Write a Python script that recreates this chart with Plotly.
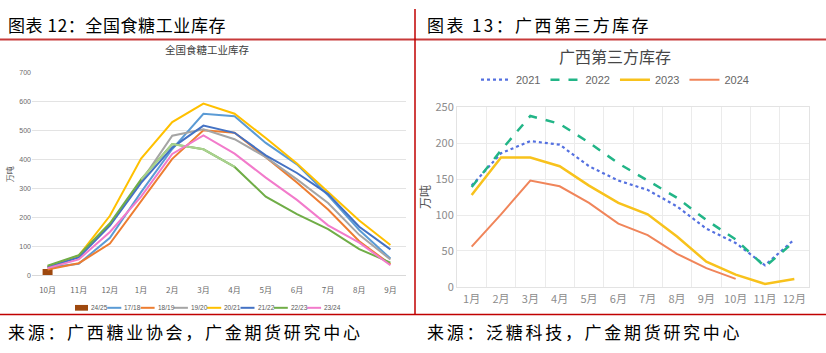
import plotly.graph_objects as go

W, H = 826, 353

def px(x):
    return x / W

def py(y):
    return 1 - y / H

# ---------------- data: left chart (全国食糖工业库存) ----------------
months_l = ['10月', '11月', '12月', '1月', '2月', '3月', '4月', '5月', '6月', '7月', '8月', '9月']
s1718 = [27, 40, 130, 288, 437, 559, 550, 458, 384, 277, 157, 58]
s1819 = [20, 42, 110, 255, 403, 502, 493, 409, 321, 228, 118, 38]
s1920 = [30, 65, 175, 325, 483, 505, 471, 409, 332, 250, 140, 55]
s2021 = [30, 68, 206, 404, 530, 594, 559, 475, 387, 288, 190, 105]
s2122 = [28, 62, 172, 320, 442, 518, 493, 415, 354, 281, 168, 90]
s2223 = [33, 70, 180, 332, 454, 436, 375, 272, 212, 160, 91, 44]
s2324 = [25, 55, 150, 272, 420, 484, 421, 338, 261, 173, 113, 35]
s2425_months = ['10月']
s2425 = [22]

left_names = ['24/25', '17/18', '18/19', '19/20', '20/21', '21/22', '22/23', '23/24']
left_colors = ['#9E480E', '#5B9BD5', '#ED7D31', '#A5A5A5', '#FFC000', '#4472C4', '#70AD47', '#F27BCB']
left_lines = [s1718, s1819, s1920, s2021, s2122, s2223, s2324]

# ---------------- data: right chart (广西第三方库存) ----------------
months_r = ['1月', '2月', '3月', '4月', '5月', '6月', '7月', '8月', '9月', '10月', '11月', '12月']
r2021 = [141, 186, 203, 198, 168, 148, 135, 112, 81, 61, 30, 66]
r2022 = [139, 190, 238, 227, 201, 172, 148, 124, 93, 66, 28, 63]
r2023 = [128, 180, 180, 168, 141, 117, 101, 70, 35, 17, 4, 11]
r2024 = [56, 101, 148, 140, 117, 88, 72, 46, 26, 11, None, None]
right_names = ['2021', '2022', '2023', '2024']

fig = go.Figure()

# left chart traces
fig.add_trace(go.Bar(x=s2425_months, y=s2425, width=0.32, marker=dict(color=left_colors[0], line=dict(width=0)),
                     name=left_names[0], showlegend=False, xaxis='x', yaxis='y'))
for i, vals in enumerate(left_lines):
    fig.add_trace(go.Scatter(x=months_l, y=vals, mode='lines', name=left_names[i + 1],
                             line=dict(color=left_colors[i + 1], width=2), showlegend=False,
                             xaxis='x', yaxis='y'))
    if left_names[i + 1] == '22/23':
        # lighter-coloured segment (1月 to 4月) as in the source picture
        fig.add_trace(go.Scatter(x=months_l[3:7], y=vals[3:7], mode='lines', name='22/23',
                                 line=dict(color='#A9D18E', width=2), showlegend=False,
                                 xaxis='x', yaxis='y'))

# right chart traces
r_styles = [
    dict(color='#5470E0', width=2.2, dash='dot'),
    dict(color='#22B587', width=2.5, dash='dash'),
    dict(color='#F8C21C', width=2.5),
    dict(color='#F0855A', width=2),
]
for name, vals, st in zip(right_names, [r2021, r2022, r2023, r2024], r_styles):
    fig.add_trace(go.Scatter(x=months_r, y=vals, mode='lines', name=name, line=st,
                             xaxis='x2', yaxis='y2', legend='legend2', connectgaps=False))

tick_l = dict(family='Noto Sans CJK SC, Liberation Sans', size=8, color='#6a6a6a')
tick_r = dict(family='Noto Sans CJK SC, Liberation Sans', size=11, color='#8c8c8c')

fig.update_layout(
    width=W, height=H,
    margin=dict(l=0, r=0, t=0, b=0),
    paper_bgcolor='white', plot_bgcolor='white',
    font=dict(family='Noto Sans CJK SC, Liberation Sans', color='#333'),
    showlegend=True,
    barmode='overlay',
    xaxis=dict(domain=[px(32), px(406)], anchor='y', type='category',
               categoryorder='array', categoryarray=months_l, range=[-0.5, 11.5],
               showgrid=False, showline=True, linecolor='#D9D9D9', linewidth=1,
               ticks='', tickangle=0, ticklabelstandoff=7, tickfont=tick_l, fixedrange=True),
    yaxis=dict(domain=[py(279), py(67)], anchor='x', range=[0, 700], dtick=100,
               showgrid=True, gridcolor='#E3E3E3', zeroline=False, showline=False,
               ticks='', tickfont=dict(family='Liberation Sans', size=7, color='#6a6a6a'),
               title=dict(text='万吨', font=dict(size=8, color='#595959'), standoff=4)),
    xaxis2=dict(domain=[px(457), px(809)], anchor='y2', type='category',
                categoryorder='array', categoryarray=months_r, range=[-0.5, 11.5],
                tickson='boundaries', showgrid=True, gridcolor='#EBEBEB',
                showline=True, mirror=True, linecolor='#E3E3E3',
                ticks='', tickangle=0, ticklabelstandoff=2, tickfont=tick_r),
    yaxis2=dict(domain=[py(291), py(103)], anchor='x2', range=[0, 250], dtick=50,
                showgrid=True, gridcolor='#EBEBEB', zeroline=False,
                showline=True, mirror=True, linecolor='#E3E3E3',
                ticks='', tickfont=tick_r,
                title=dict(text='万吨', font=dict(size=12, color='#555'), standoff=2)),
    legend2=dict(orientation='h', x=px(615), xanchor='center', y=py(74), yanchor='middle',
                 font=dict(family='Liberation Sans', size=11, color='#666'),
                 itemwidth=30, bgcolor='rgba(0,0,0,0)', borderwidth=0),
)

shapes = [
    dict(type='line', xref='paper', yref='paper', x0=0, x1=1, y0=py(32), y1=py(32),
         line=dict(color='#C83A3A', width=2)),
    dict(type='line', xref='paper', yref='paper', x0=0, x1=1, y0=py(320), y1=py(320),
         line=dict(color='#C00000', width=1.5)),
    dict(type='line', xref='paper', yref='paper', x0=px(415), x1=px(415), y0=py(0), y1=py(320),
         line=dict(color='#C00000', width=1.5)),
]

annotations = []
def add_text(text, x, y, size, color='#000', xanchor='left', spacing=None, family='Noto Sans CJK SC'):
    t = text if spacing is None else '<span style="letter-spacing:%.1fpx">%s</span>' % (spacing, text)
    annotations.append(dict(text=t, xref='paper', yref='paper', x=px(x), y=py(y), xanchor=xanchor,
                            yanchor='middle', showarrow=False, font=dict(family=family, size=size, color=color)))

add_text('图表 12：全国食糖工业库存', 6, 16.5, 17, spacing=0.6)
add_text('图表 13：广西第三方库存', 425, 16.5, 17, spacing=2.4)
add_text('来源：广西糖业协会，广金期货研究中心', 6, 337.5, 17, spacing=2.7)
add_text('来源：泛糖科技，广金期货研究中心', 425, 337.5, 17, spacing=2.7)
add_text('全国食糖工业库存', 207, 42, 10.5, color='#404040', xanchor='center')
add_text('广西第三方库存', 615, 49, 16, color='#464646', xanchor='center')

# left legend (single compact row, built from series names / colours)
x_start, step, leg_y = 73, 33.3, 313
for i, (nm, col) in enumerate(zip(left_names, left_colors)):
    x0 = x_start + step * i
    if i == 0:
        shapes.append(dict(type='rect', xref='paper', yref='paper', x0=px(x0 + 2), x1=px(x0 + 15),
                           y0=py(leg_y + 3), y1=py(leg_y - 3), fillcolor=col, line=dict(width=0)))
    else:
        shapes.append(dict(type='line', xref='paper', yref='paper', x0=px(x0 + 1), x1=px(x0 + 15),
                           y0=py(leg_y), y1=py(leg_y), line=dict(color=col, width=2)))
    add_text(nm, x0 + 16, leg_y, 6.5, color='#595959', family='Liberation Sans')

fig.update_layout(shapes=shapes, annotations=annotations)
fig.write_html('out.html')
